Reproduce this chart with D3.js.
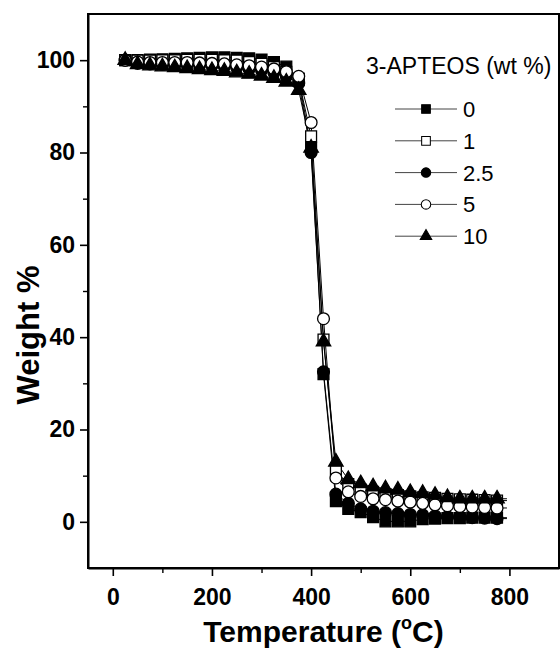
<!DOCTYPE html>
<html>
<head>
<meta charset="utf-8">
<script src="https://cdn.jsdelivr.net/npm/d3@7"></script>
<style>
  body { margin: 0; background: #fff; }
  svg { display: block; font-family: "Liberation Sans", Arial, sans-serif; }
</style>
</head>
<body>
<div id="chart"></div>
<script>
// temperature (°C) of each sampled point; the last one carries the line only
const temps = [25, 50, 75, 100, 125, 150, 175, 200, 225, 250, 275, 300, 325, 350, 375, 400,
    425, 450, 475, 500, 525, 550, 575, 600, 625, 650, 675, 700, 725, 750, 775, 795];

// weight % for each 3-APTEOS loading
const w0 = [100, 100, 100.1, 100.2, 100.3, 100.4, 100.5, 100.6, 100.6, 100.5, 100.4, 100.1, 99.6, 98.6, 96, 81,
    32, 4.5, 2.8, 2.1, 1.0, 0.1, 0.1, 0.1, 0.6, 0.7, 0.8, 0.8, 0.9, 0.9, 0.9, 0.9];
const w1 = [100, 99.9, 99.9, 100, 100, 100.1, 100.1, 100.1, 100, 99.9, 99.6, 99.2, 98.5, 97.5, 95.8, 83.5,
    39.5, 11, 8.2, 7.0, 6.5, 6.0, 5.8, 5.5, 5.3, 5.2, 5.0, 4.9, 4.8, 4.7, 4.6, 4.6];
const w25 = [100, 99.3, 99.2, 99.1, 99, 99, 98.9, 98.8, 98.6, 98.4, 98.1, 97.8, 97.3, 96.5, 95, 80,
    32.5, 6, 4, 2.8, 2.3, 2.0, 1.8, 1.6, 1.5, 1.3, 1.1, 1.0, 0.9, 0.8, 0.7, 0.7];
const w5 = [100, 99.6, 99.5, 99.5, 99.5, 99.5, 99.4, 99.3, 99.2, 99, 98.8, 98.5, 98.1, 97.5, 96.5, 86.5,
    44, 9.5, 6.5, 5.5, 5.0, 4.8, 4.5, 4.3, 4.0, 3.7, 3.5, 3.3, 3.2, 3.1, 3.0, 3.0];
const w10 = [100, 99.1, 98.8, 98.6, 98.4, 98.2, 98, 97.8, 97.6, 97.3, 97, 96.6, 96.1, 95.3, 93.5, 81,
    39, 13, 9.2, 8.3, 7.6, 7.2, 6.9, 6.4, 6.2, 5.8, 5.3, 5.0, 5.0, 5.0, 5.0, 5.0];

const seriesNames = ["0", "1", "2.5", "5", "10"];
const seriesValues = [w0, w1, w25, w5, w10];
const seriesSymbols = ["squareFilled", "squareOpen", "circleFilled", "circleOpen", "triangleFilled"];

const xTicks = [0, 200, 400, 600, 800];
const xMinor = [100, 300, 500, 700];
const yTicks = [0, 20, 40, 60, 80, 100];
const yMinor = [10, 30, 50, 70, 90];

const legendTitle = "3-APTEOS (wt %)";
const xLabel = "Temperature (";
const yLabel = "Weight %";

const width = 560, height = 651;
const margin = { top: 14, right: 1, bottom: 83, left: 88 };

const svg = d3.select("#chart").append("svg")
    .attr("width", width)
    .attr("height", height);

const x = d3.scaleLinear().domain([-50, 900]).range([margin.left, width - margin.right]);
const y = d3.scaleLinear().domain([-10, 110]).range([height - margin.bottom, margin.top]);

// frame
svg.append("rect")
    .attr("x", x(-50)).attr("y", y(110))
    .attr("width", x(900) - x(-50)).attr("height", y(-10) - y(110))
    .attr("fill", "none").attr("stroke", "#000").attr("stroke-width", 2);

// axes
const styleAxis = g => {
    g.select(".domain").attr("stroke-width", 2);
    g.selectAll(".tick line").attr("stroke-width", 1.6);
    g.selectAll("text").attr("font-size", 23).attr("font-weight", "bold").attr("fill", "#000");
};

svg.append("g")
    .attr("transform", `translate(0,${y(-10)})`)
    .call(d3.axisBottom(x).tickValues(xTicks).tickSize(8).tickPadding(13).tickSizeOuter(0))
    .call(styleAxis);
svg.append("g")
    .attr("transform", `translate(0,${y(-10)})`)
    .call(d3.axisBottom(x).tickValues(xMinor).tickSize(5).tickFormat("").tickSizeOuter(0))
    .call(g => g.select(".domain").remove())
    .call(g => g.selectAll(".tick line").attr("stroke-width", 1.4));

svg.append("g")
    .attr("transform", `translate(${x(-50)},0)`)
    .call(d3.axisLeft(y).tickValues(yTicks).tickSize(8).tickPadding(5).tickSizeOuter(0))
    .call(styleAxis);
svg.append("g")
    .attr("transform", `translate(${x(-50)},0)`)
    .call(d3.axisLeft(y).tickValues(yMinor).tickSize(5).tickFormat("").tickSizeOuter(0))
    .call(g => g.select(".domain").remove())
    .call(g => g.selectAll(".tick line").attr("stroke-width", 1.4));

// axis titles
const xt = svg.append("text")
    .attr("x", (x(-50) + x(900)) / 2)
    .attr("y", 642)
    .attr("text-anchor", "middle")
    .attr("font-size", 30)
    .attr("font-weight", "bold")
    .text(xLabel);
xt.append("tspan").attr("font-size", 18).attr("dy", -13).text("o");
xt.append("tspan").attr("dy", 13).text("C)");

svg.append("text")
    .attr("transform", `translate(39,${(y(-10) + y(110)) / 2 + 44}) rotate(-90)`)
    .attr("text-anchor", "middle")
    .attr("font-size", 31)
    .attr("font-weight", "bold")
    .text(yLabel);

// marker drawing
function drawSymbol(sel, kind) {
    const filled = kind.endsWith("Filled");
    let path;
    if (kind.startsWith("square")) path = d3.symbol(d3.symbolSquare, 118);
    else if (kind.startsWith("circle")) path = d3.symbol(d3.symbolCircle, 110);
    else path = d3.symbol(d3.symbolTriangle, 90);
    sel.append("path")
        .attr("d", path)
        .attr("fill", filled ? "#000" : "#fff")
        .attr("stroke", "#000")
        .attr("stroke-width", 1.3);
}

const line = d3.line()
    .x((d, i) => x(temps[i]))
    .y(d => y(d));

const plot = svg.append("g");

seriesValues.forEach((vals, s) => {
    plot.append("path")
        .datum(vals)
        .attr("d", line)
        .attr("fill", "none")
        .attr("stroke", "#000")
        .attr("stroke-width", 1);
});
seriesValues.forEach((vals, s) => {
    plot.append("g")
        .selectAll("g")
        .data(vals.slice(0, temps.length - 1))
        .join("g")
        .attr("transform", (d, i) => `translate(${x(temps[i])},${y(d)})`)
        .each(function () { drawSymbol(d3.select(this), seriesSymbols[s]); });
});

// legend
const legend = svg.append("g");
legend.append("text")
    .attr("x", 366)
    .attr("y", 74)
    .attr("font-size", 23)
    .text(legendTitle);

seriesNames.forEach((name, i) => {
    const row = legend.append("g").attr("transform", `translate(0,${109 + i * 31.8})`);
    row.append("line")
        .attr("x1", 395).attr("x2", 457)
        .attr("stroke", "#444").attr("stroke-width", 1);
    const m = row.append("g").attr("transform", "translate(426,0)");
    drawSymbol(m, seriesSymbols[i]);
    m.select("path").attr("transform", "scale(0.8)");
    row.append("text")
        .attr("x", 463)
        .attr("y", 8)
        .attr("font-size", 22)
        .text(name);
});
</script>
</body>
</html>
